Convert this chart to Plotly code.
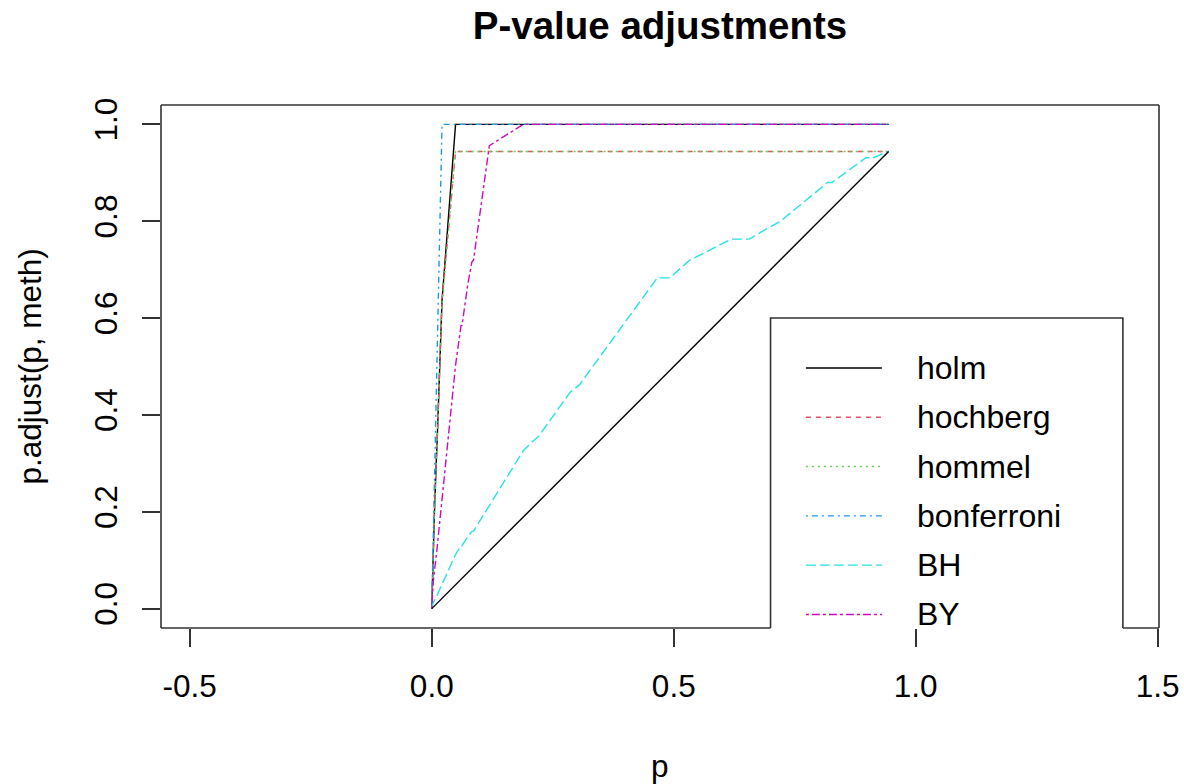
import plotly.graph_objects as go

# ---- data ----
p = [2.35e-7, 2.10e-5, 2.58e-5, 9.8e-5, 1.05e-4, 1.24e-4, 1.32e-4, 1.57e-4, 2.25e-4, 3.8e-4,
     6.1e-4, 0.00162, 0.0033, 0.00353, 0.00524, 0.00683, 0.00706, 0.00879, 0.0094, 0.0113,
     0.0212, 0.0492, 0.0605, 0.0626, 0.0739, 0.0827, 0.0863, 0.119, 0.189, 0.206,
     0.221, 0.286, 0.305, 0.466, 0.483, 0.492, 0.532, 0.575, 0.578, 0.619,
     0.636, 0.645, 0.656, 0.688, 0.719, 0.818, 0.827, 0.897, 0.912, 0.944]

holm = [1.2e-5, 0.00103, 0.00124, 0.0046, 0.00483, 0.00558, 0.00581, 0.00675, 0.00945, 0.0156,
        0.0244, 0.0632, 0.1254, 0.1306, 0.1886, 0.239, 0.240, 0.290, 0.301, 0.350,
        0.636, 1, 1, 1, 1, 1, 1, 1, 1, 1,
        1, 1, 1, 1, 1, 1, 1, 1, 1, 1,
        1, 1, 1, 1, 1, 1, 1, 1, 1, 1]

hochberg = [1.2e-5, 0.00103, 0.00124, 0.0046, 0.00483, 0.00558, 0.00581, 0.00675, 0.00945, 0.0156,
            0.0244, 0.0632, 0.1254, 0.1306, 0.1886, 0.239, 0.240, 0.290, 0.301, 0.350,
            0.636, 0.944, 0.944, 0.944, 0.944, 0.944, 0.944, 0.944, 0.944, 0.944,
            0.944, 0.944, 0.944, 0.944, 0.944, 0.944, 0.944, 0.944, 0.944, 0.944,
            0.944, 0.944, 0.944, 0.944, 0.944, 0.944, 0.944, 0.944, 0.944, 0.944]

hommel = [1.2e-5, 0.00103, 0.00124, 0.0046, 0.00483, 0.00558, 0.00581, 0.00675, 0.00945, 0.0155,
          0.0242, 0.0628, 0.1250, 0.1300, 0.1880, 0.238, 0.239, 0.288, 0.299, 0.348,
          0.630, 0.944, 0.944, 0.944, 0.944, 0.944, 0.944, 0.944, 0.944, 0.944,
          0.944, 0.944, 0.944, 0.944, 0.944, 0.944, 0.944, 0.944, 0.944, 0.944,
          0.944, 0.944, 0.944, 0.944, 0.944, 0.944, 0.944, 0.944, 0.944, 0.944]

bonferroni = [1.2e-5, 0.00105, 0.00129, 0.0049, 0.00525, 0.0062, 0.0066, 0.00785, 0.01125, 0.019,
              0.0305, 0.081, 0.165, 0.1765, 0.262, 0.3415, 0.353, 0.4395, 0.47, 0.565,
              1, 1, 1, 1, 1, 1, 1, 1, 1, 1,
              1, 1, 1, 1, 1, 1, 1, 1, 1, 1,
              1, 1, 1, 1, 1, 1, 1, 1, 1, 1]

BH = [1.2e-5, 4.3e-4, 4.3e-4, 9.4e-4, 9.4e-4, 9.4e-4, 9.4e-4, 9.4e-4, 0.00125, 0.0019,
      0.00277, 0.00675, 0.0126, 0.0126, 0.01747, 0.02076, 0.02076, 0.0244, 0.0247, 0.0283,
      0.0505, 0.1118, 0.130, 0.130, 0.148, 0.159, 0.160, 0.2125, 0.326, 0.343,
      0.356, 0.447, 0.462, 0.683, 0.683, 0.683, 0.719, 0.741, 0.741, 0.763,
      0.763, 0.763, 0.763, 0.782, 0.799, 0.880, 0.880, 0.931, 0.931, 0.944]

BY = [5.4e-5, 0.001935, 0.001935, 0.00423, 0.00423, 0.00423, 0.00423, 0.00423, 0.00562, 0.00855,
      0.01246, 0.0304, 0.0567, 0.0567, 0.0786, 0.0934, 0.0934, 0.1098, 0.1111, 0.1273,
      0.2272, 0.503, 0.585, 0.585, 0.666, 0.715, 0.720, 0.956, 1, 1,
      1, 1, 1, 1, 1, 1, 1, 1, 1, 1,
      1, 1, 1, 1, 1, 1, 1, 1, 1, 1]

none = p

methods = ["holm", "hochberg", "hommel", "bonferroni", "BH", "BY"]
series = [holm, hochberg, hommel, bonferroni, BH, BY]
colors = ["#000000", "#DF536B", "#61D04F", "#2297E6", "#28E2E5", "#CD0BBC"]
dashes = ["solid", "5px,5px", "2px,4px", "2px,4px,6px,4px", "10px,4px", "3px,3px,8px,3px"]

x_ticks = [-0.5, 0.0, 0.5, 1.0, 1.5]
x_ticktext = ["-0.5", "0.0", "0.5", "1.0", "1.5"]
y_ticks = [0.0, 0.2, 0.4, 0.6, 0.8, 1.0]
y_ticktext = ["0.0", "0.2", "0.4", "0.6", "0.8", "1.0"]

# ---- layout constants ----
FONT = "Liberation Sans, Arial, sans-serif"
FS = 31.5
X_RANGE = [-0.5594, 1.5026]
Y_RANGE = [-0.04, 1.04]
LEG_X, LEG_Y = 0.7, 0.6          # legend(0.7, 0.6, ...)
LEG_RIGHT = 1.428
LEG_LINE_X = [0.773, 0.930]
LEG_TEXT_X = 0.999
LEG_ROW0 = 0.497
LEG_STEP = 0.1018
LW = 1.4
AX_COL = "#333333"
PLOT_L, PLOT_R, PLOT_T, PLOT_B = 161, 1159, 105, 628

fig = go.Figure()

for name, ys, c, d in zip(methods, series, colors, dashes):
    fig.add_trace(go.Scatter(x=p, y=ys, mode="lines", name=name,
                             line=dict(color=c, width=LW, dash=d), showlegend=False))
# 7th column ("none") recycles colour 1 / lty 1
fig.add_trace(go.Scatter(x=p, y=none, mode="lines", name="none",
                         line=dict(color="#000000", width=LW, dash="solid"), showlegend=False))

shapes = []
annotations = []

# legend box (clipped by plot region, white fill hides the frame below it)
shapes.append(dict(type="rect", xref="x", yref="y", x0=LEG_X, x1=LEG_RIGHT,
                   y0=-0.3, y1=LEG_Y, fillcolor="white",
                   line=dict(color=AX_COL, width=1.6), layer="above"))
for i, (name, c, d) in enumerate(zip(methods, colors, dashes)):
    yy = LEG_ROW0 - i * LEG_STEP
    shapes.append(dict(type="line", xref="x", yref="y", x0=LEG_LINE_X[0], x1=LEG_LINE_X[1],
                       y0=yy, y1=yy, line=dict(color=c, width=LW, dash=d), layer="above"))
    annotations.append(dict(x=LEG_TEXT_X, y=yy, xref="x", yref="y", text=name,
                            showarrow=False, xanchor="left", yanchor="middle",
                            font=dict(family=FONT, size=FS + 0.5, color="black")))

# plot frame (box), bottom edge interrupted by the legend fill
xl = (LEG_X - X_RANGE[0]) / (X_RANGE[1] - X_RANGE[0])
xr = (LEG_RIGHT - X_RANGE[0]) / (X_RANGE[1] - X_RANGE[0])
frame = dict(color=AX_COL, width=1.6)
shapes += [
    dict(type="line", xref="paper", yref="paper", x0=0, x1=0, y0=0, y1=1, line=frame),
    dict(type="line", xref="paper", yref="paper", x0=0, x1=1, y0=1, y1=1, line=frame),
    dict(type="line", xref="paper", yref="paper", x0=1, x1=1, y0=0, y1=1, line=frame),
    dict(type="line", xref="paper", yref="paper", x0=0, x1=xl, y0=0, y1=0, line=frame),
    dict(type="line", xref="paper", yref="paper", x0=xr, x1=1, y0=0, y1=0, line=frame),
]

pw = PLOT_R - PLOT_L
ph = PLOT_B - PLOT_T
# axis titles
annotations.append(dict(x=0.5, y=-(766 - PLOT_B) / ph, xref="paper", yref="paper", text="p",
                        showarrow=False, xanchor="center", yanchor="middle",
                        font=dict(family=FONT, size=FS, color="black")))
annotations.append(dict(x=-(PLOT_L - 29) / pw, y=0.5, xref="paper", yref="paper",
                        text="p.adjust(p, meth)", textangle=-90, showarrow=False,
                        xanchor="center", yanchor="middle",
                        font=dict(family=FONT, size=FS, color="black")))

fig.update_layout(
    width=1184, height=784,
    margin=dict(l=PLOT_L, r=1184 - PLOT_R, t=PLOT_T, b=784 - PLOT_B, autoexpand=False),
    paper_bgcolor="white", plot_bgcolor="white",
    font=dict(family=FONT, size=FS, color="black"),
    title=dict(text="P-value adjustments", x=0.5, xref="paper", xanchor="center",
               y=1 - 26 / 784, yref="container", yanchor="middle",
               font=dict(family=FONT, size=38.5, color="black", weight="bold")),
    shapes=shapes,
    annotations=annotations,
    showlegend=False,
)
fig.update_xaxes(range=X_RANGE, tickvals=x_ticks, ticktext=x_ticktext, automargin=False,
                 showgrid=False, zeroline=False, showline=False,
                 ticks="outside", ticklen=18, tickwidth=1.6, tickcolor=AX_COL,
                 ticklabelstandoff=12,
                 tickfont=dict(family=FONT, size=FS, color="black"))
fig.update_yaxes(range=Y_RANGE, tickvals=y_ticks, ticktext=y_ticktext, automargin=False,
                 showgrid=False, zeroline=False, showline=False,
                 ticks="outside", ticklen=18, tickwidth=1.6, tickcolor=AX_COL,
                 tickangle=-90, ticklabelstandoff=12,
                 tickfont=dict(family=FONT, size=FS, color="black"))

fig.write_html("out.html")
